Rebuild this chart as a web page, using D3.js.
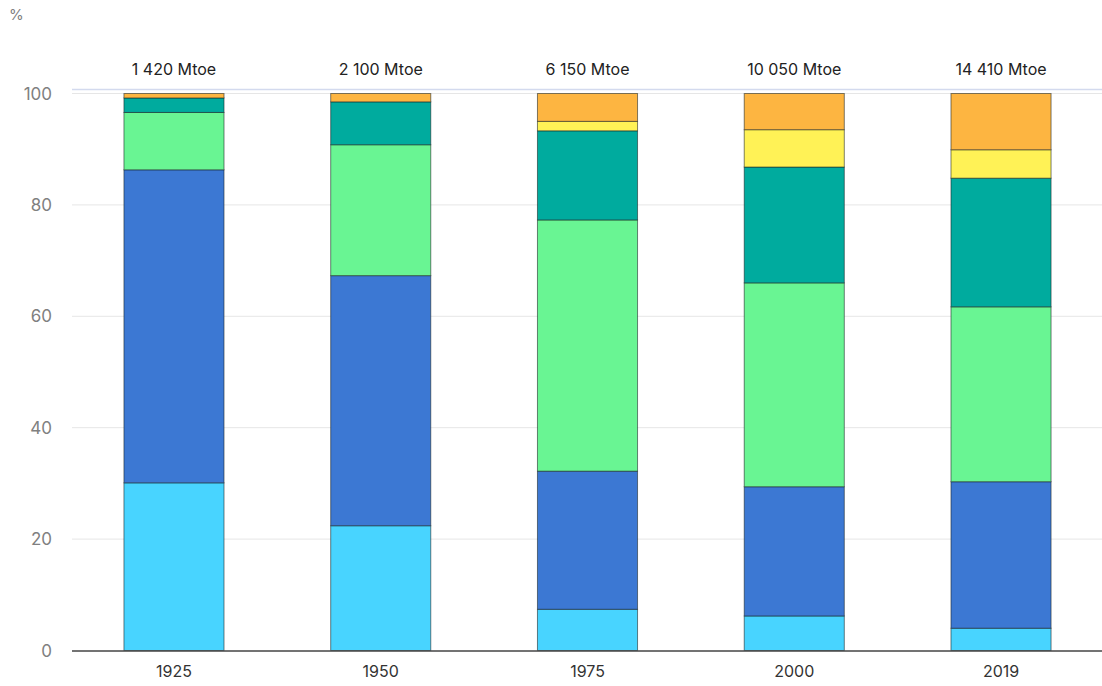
<!DOCTYPE html>
<html>
<head>
<meta charset="utf-8">
<script src="https://cdn.jsdelivr.net/npm/d3@7"></script>
<style>
  html, body { margin: 0; padding: 0; background: #fff; }
  svg { display: block; font-family: Inter, "Noto Sans", sans-serif; }
</style>
</head>
<body>
<svg id="chart" width="1102" height="686"></svg>
<script>
// Data
const years = ["1925", "1950", "1975", "2000", "2019"];
const totals = ["1 420 Mtoe", "2 100 Mtoe", "6 150 Mtoe", "10 050 Mtoe", "14 410 Mtoe"];
const seriesNames = ["Traditional biomass", "Coal", "Oil", "Natural gas", "Nuclear", "Renewables"];
const biomass    = [30.1, 22.4, 7.4, 6.2, 4.0];
const coal       = [56.2, 44.9, 24.8, 23.2, 26.3];
const oil        = [10.3, 23.5, 45.1, 36.6, 31.4];
const gas        = [2.6, 7.7, 16.0, 20.8, 23.1];
const nuclear    = [0, 0, 1.7, 6.7, 5.1];
const renewables = [0.8, 1.5, 5.0, 6.5, 10.1];
const yTicks = [0, 20, 40, 60, 80, 100];
const colors = ["#48d4ff", "#3c78d3", "#69f593", "#00ab9e", "#fff256", "#fdb541"];

const seriesValues = [biomass, coal, oil, gas, nuclear, renewables];
const rows = years.map((y, i) => {
  const r = { year: y };
  seriesNames.forEach((s, k) => r[s] = seriesValues[k][i]);
  return r;
});

const svg = d3.select("#chart");
const left = 72, right = 1102;
const x = d3.scaleBand().domain(years).range([70.6, 1104.4]).paddingInner(0.516).paddingOuter(0.258);
const y = d3.scaleLinear().domain([0, 100]).range([650.5, 93.5]);

// header rule
svg.append("line").attr("x1", left).attr("x2", right).attr("y1", 89.5).attr("y2", 89.5)
  .attr("stroke", "#d3daee").attr("stroke-width", 1.5);

// grid
svg.append("g").selectAll("line").data(yTicks.filter(d => d > 0)).join("line")
  .attr("x1", left).attr("x2", right)
  .attr("y1", d => y(d)).attr("y2", d => y(d))
  .attr("stroke", "#e6e6e6").attr("stroke-width", 1);

// y tick labels
svg.append("g").selectAll("text").data(yTicks).join("text")
  .attr("x", 52).attr("y", d => y(d)).attr("dy", "0.36em")
  .attr("text-anchor", "end").attr("fill", "#808080").attr("font-size", 17)
  .text(d => d);

svg.append("text").attr("x", 9).attr("y", 20).attr("fill", "#808080").attr("font-size", 15).text("%");

// stacked bars
const stack = d3.stack().keys(seriesNames);
const stacked = stack(rows);
svg.append("g").selectAll("g").data(stacked).join("g")
  .attr("fill", (d, i) => colors[i])
  .selectAll("rect").data(d => d.filter(p => p[1] - p[0] > 0)).join("rect")
  .attr("x", d => x(d.data.year))
  .attr("width", x.bandwidth())
  .attr("y", d => y(d[1]))
  .attr("height", d => y(d[0]) - y(d[1]))
  .attr("stroke", "rgba(20,30,30,0.55)")
  .attr("stroke-width", 1);

// x axis line
svg.append("line").attr("x1", left).attr("x2", right).attr("y1", y(0) + 0.5).attr("y2", y(0) + 0.5)
  .attr("stroke", "#444").attr("stroke-width", 1.5);

// x labels
svg.append("g").selectAll("text").data(years).join("text")
  .attr("x", d => x(d) + x.bandwidth() / 2).attr("y", 677)
  .attr("text-anchor", "middle").attr("fill", "#333").attr("font-size", 16)
  .text(d => d);

// totals
svg.append("g").selectAll("text").data(years).join("text")
  .attr("x", d => x(d) + x.bandwidth() / 2).attr("y", 75)
  .attr("text-anchor", "middle").attr("fill", "#222").attr("font-size", 16)
  .text((d, i) => totals[i]);
</script>
</body>
</html>
